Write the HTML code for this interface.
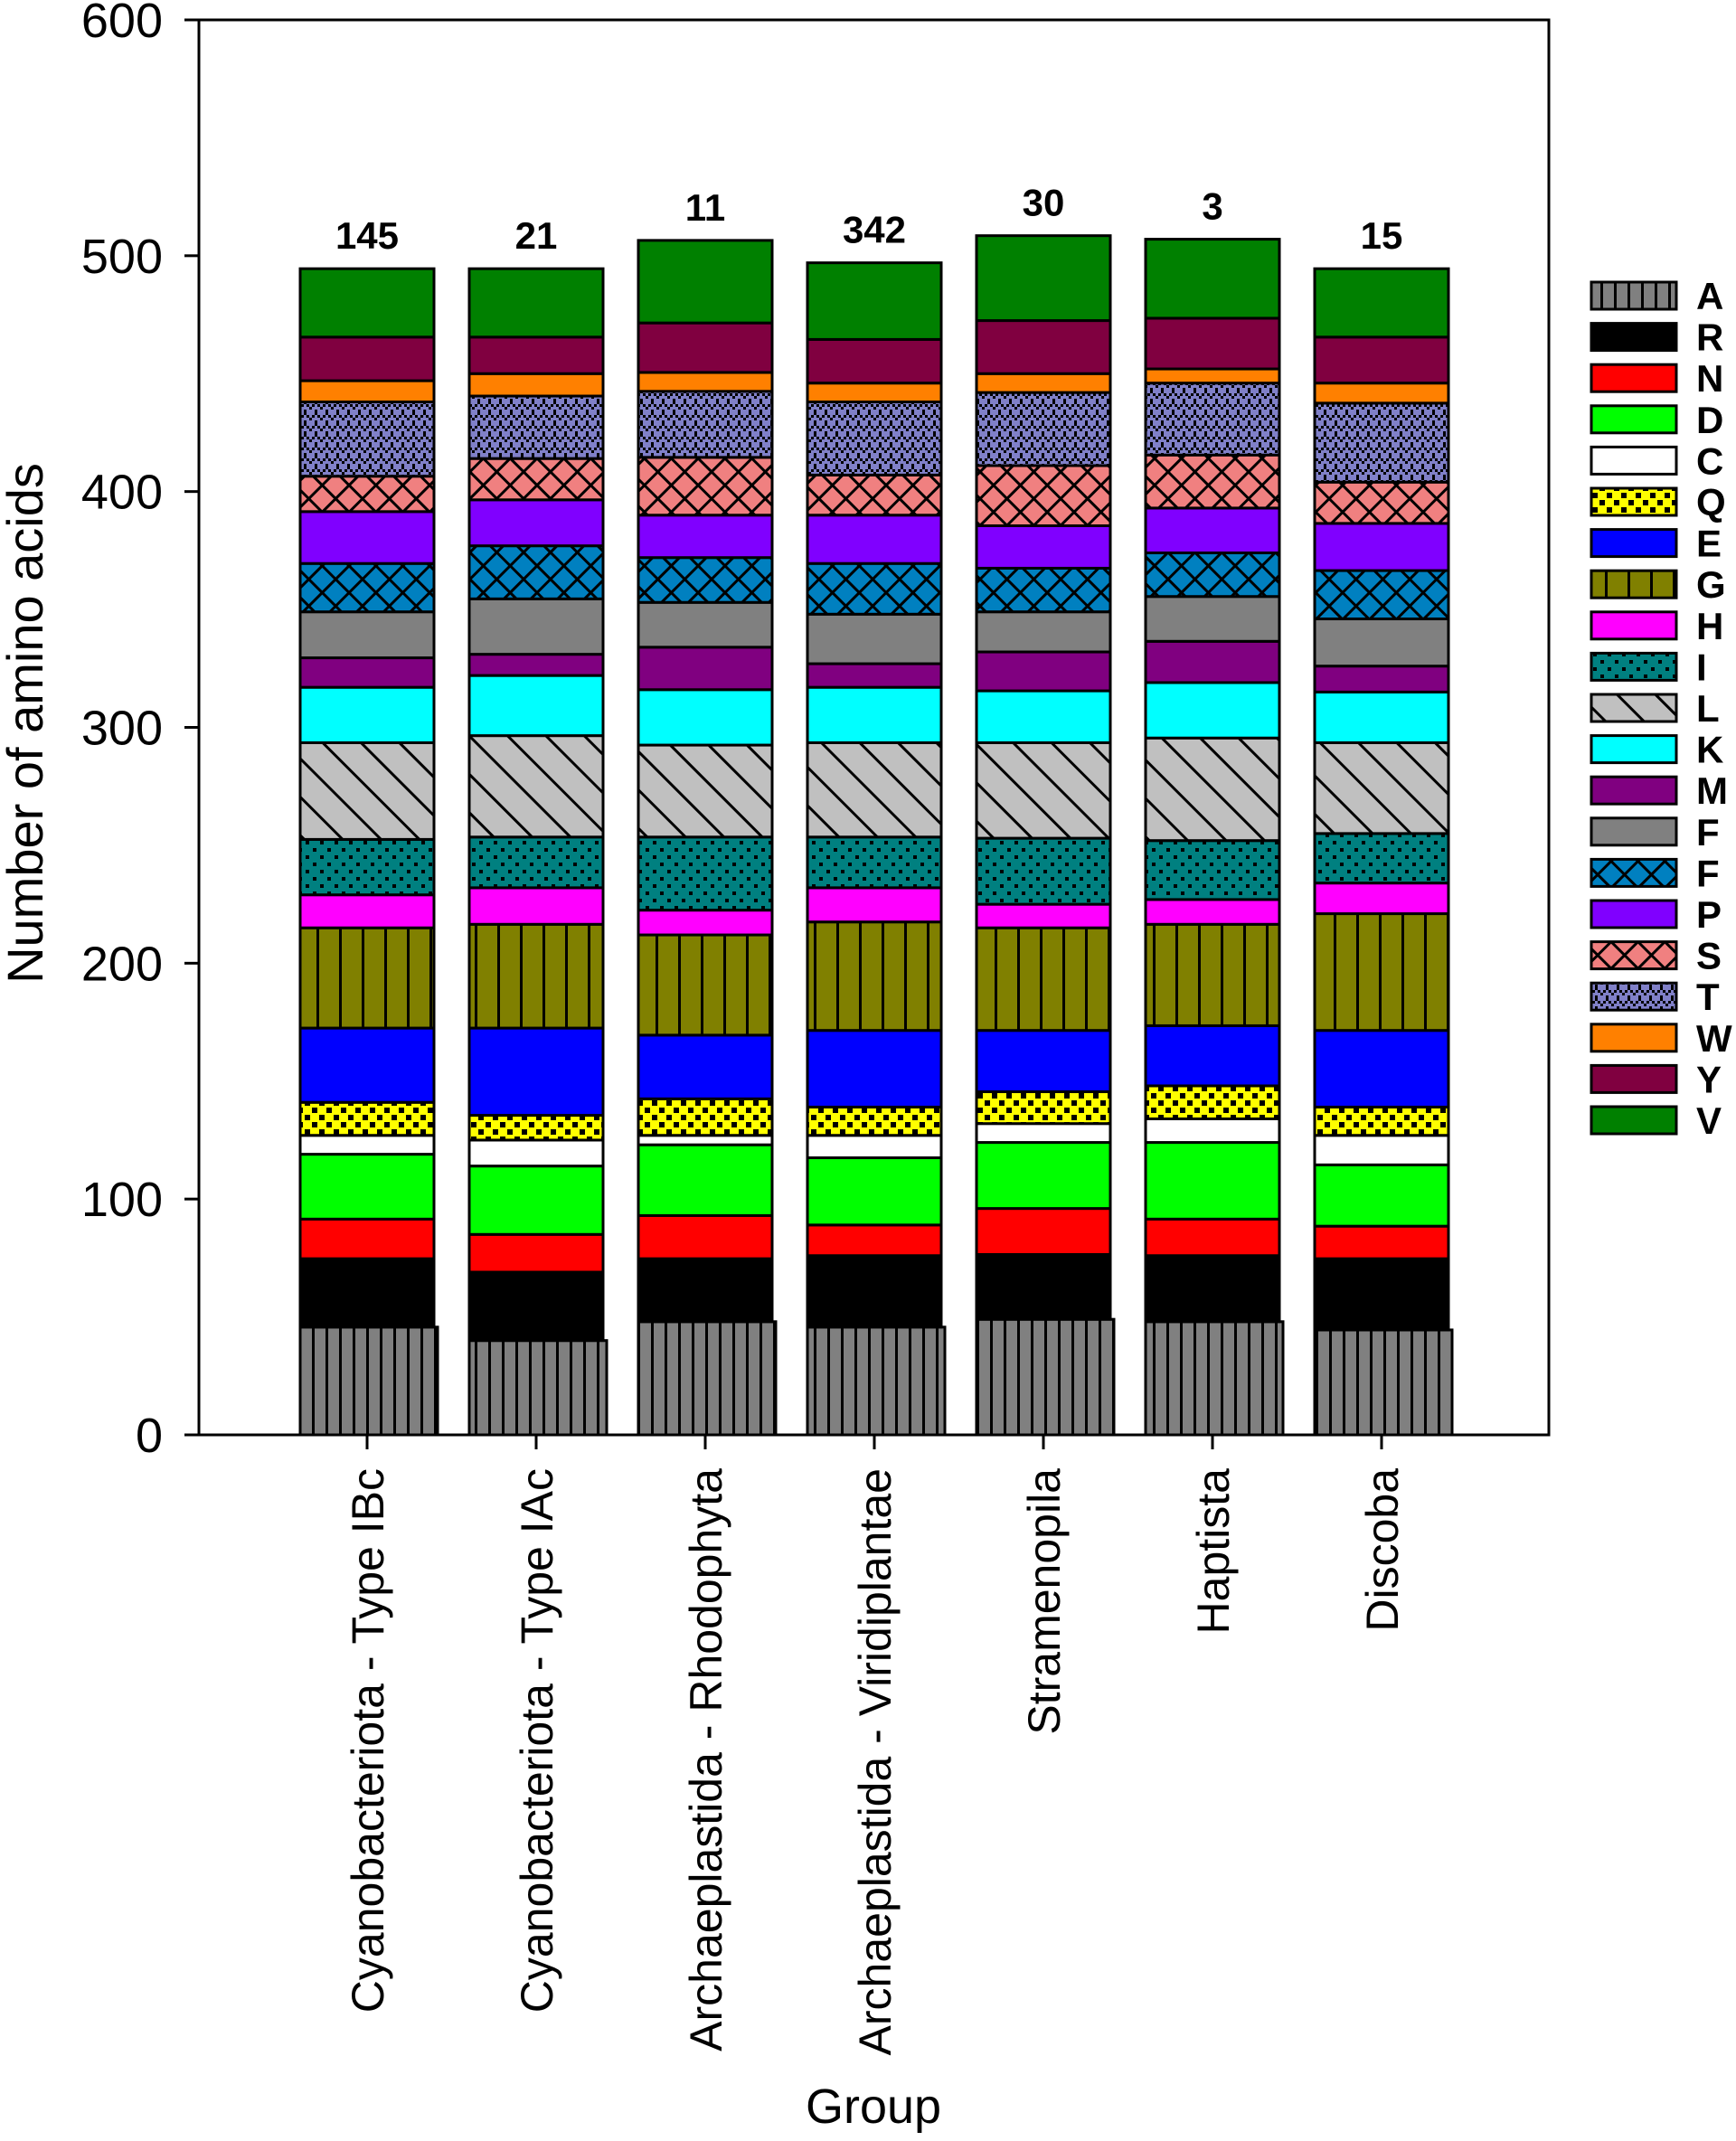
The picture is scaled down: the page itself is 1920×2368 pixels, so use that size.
<!DOCTYPE html>
<html><head><meta charset="utf-8"><style>
html,body{margin:0;padding:0;background:#fff;}
svg{display:block;font-family:"Liberation Sans",Arial,sans-serif;}
</style></head><body>
<svg id="chart" width="1920" height="2368" viewBox="0 0 1920 2368">
<defs>
<pattern id="pA" width="15" height="20" patternUnits="userSpaceOnUse"><rect width="15" height="20" fill="#808080"/><rect x="0" width="3" height="20" fill="#000"/></pattern>
<pattern id="pG" width="25" height="20" patternUnits="userSpaceOnUse"><rect width="25" height="20" fill="#808000"/><rect x="0" width="3" height="20" fill="#000"/></pattern>
<pattern id="pI" width="16" height="16" patternUnits="userSpaceOnUse"><rect width="16" height="16" fill="#008080"/><rect x="2" y="2" width="4" height="4" fill="#000"/><rect x="10" y="10" width="4" height="4" fill="#000"/></pattern>
<pattern id="pL" width="30" height="30" patternUnits="userSpaceOnUse" patternTransform="rotate(-45)"><rect width="30" height="30" fill="#c0c0c0"/><rect x="0" width="3" height="30" fill="#000"/></pattern>
<pattern id="pX" width="21" height="21" patternUnits="userSpaceOnUse" patternTransform="rotate(45)"><rect width="21" height="21" fill="#0080c0"/><rect width="3" height="21" fill="#000"/><rect width="21" height="3" fill="#000"/></pattern>
<pattern id="pS" width="21" height="21" patternUnits="userSpaceOnUse" patternTransform="rotate(45)"><rect width="21" height="21" fill="#f08080"/><rect width="3" height="21" fill="#000"/><rect width="21" height="3" fill="#000"/></pattern>
<pattern id="pT" width="12" height="12" patternUnits="userSpaceOnUse"><rect width="12" height="12" fill="#8080c8"/><rect x="0" y="0" width="3" height="3" fill="#000"/><rect x="3" y="3" width="3" height="3" fill="#000"/><rect x="9" y="3" width="3" height="3" fill="#000"/><rect x="6" y="6" width="3" height="3" fill="#000"/><rect x="0" y="9" width="3" height="3" fill="#000"/></pattern>
<pattern id="pQ" width="16" height="16" patternUnits="userSpaceOnUse"><rect width="16" height="16" fill="#ffff00"/><rect x="1" y="1" width="6" height="6" fill="#000"/><rect x="9" y="9" width="6" height="6" fill="#000"/></pattern>
</defs>
<g id="plot"></g>
</svg>
<script>
const groups = ["Cyanobacteriota - Type IBc","Cyanobacteriota - Type IAc","Archaeplastida - Rhodophyta","Archaeplastida - Viridiplantae","Stramenopila","Haptista","Discoba"];
const counts = ["145","21","11","342","30","3","15"];
const acids = ["A","R","N","D","C","Q","E","G","H","I","L","K","M","F","F","P","S","T","W","Y","V"];
const fills = ["url(#pA)","#000000","#ff0000","#00ff00","#ffffff","url(#pQ)","#0000ff","url(#pG)","#ff00ff","url(#pI)","url(#pL)","#00ffff","#800080","#808080","url(#pX)","#8000ff","url(#pS)","url(#pT)","#ff8000","#800040","#008000"];
const s1 = [45.7,29,16.8,27.5,8,14,31.5,42.5,14,23.5,41,23.5,12.5,19.5,20.5,22,15,31.5,9,18.5,29];
const s2 = [40,29,16,29,11,10.5,37,44,15.5,21.5,43,25.5,9,23.5,22.5,19.5,17.5,26.5,9.5,15.5,29];
const s3 = [48,26.7,18.3,30,4,15.5,27,42.5,10.5,31,39,23.5,18,19,19,18,24.5,28,8,21,35];
const s4 = [45.7,30.3,13,28.5,9.5,12,32.5,46,14.5,21.5,40,23.5,10,21,21.5,20.5,17,31,8,18.5,32.5];
const s5 = [49,27.5,19.5,28,8,13.5,26,43.5,10,28,40.5,22,16.5,17,18.5,18,25.5,31,8,22.5,36];
const s6 = [48,28,15.5,32.5,10,14,25.5,43,10.5,25,43.5,23.5,17.5,19,18.5,19,22.5,30.5,6,21.5,33.5];
const s7 = [44.5,30.2,13.8,26,12.5,12,32.5,49.5,13,21,38.5,21.5,11,20,20.5,20,17.5,33.5,8.5,19.5,29];
const series = [s1,s2,s3,s4,s5,s6,s7];
const yTicks = [0,100,200,300,400,500,600];

const NS="http://www.w3.org/2000/svg";
const g=document.getElementById('plot');
const L=220,R=1713,T=22,B=1587;
const y=v=>B-(v/600)*(B-T);
const x0=406, step=187, bw=148;
const xc=i=>x0+i*step;
function mk(tag,attrs,parent){const e=document.createElementNS(NS,tag);for(const k in attrs)e.setAttribute(k,attrs[k]);(parent||g).appendChild(e);return e;}

series.forEach((vals,i)=>{
  let cum=0;
  vals.forEach((v,j)=>{
    const top=cum+v;
    const w = j===0? bw+4 : bw;
    const r=mk('rect',{x:xc(i)-bw/2,y:y(top),width:w,height:y(cum)-y(top),fill:fills[j],stroke:'#000','stroke-width':3});
    
    
    cum=top;
  });
  const t=mk('text',{x:xc(i),y:y(cum)-22,'text-anchor':'middle','font-size':42,'font-weight':'bold'});
  t.textContent=counts[i];
  
  
  const tk=mk('line',{x1:xc(i),x2:xc(i),y1:B,y2:B+16,stroke:'#000','stroke-width':3});
  
  
  const xl=mk('text',{transform:`translate(${xc(i)+18},1624) rotate(-90)`,'text-anchor':'end','font-size':50});
  xl.textContent=groups[i];
  
  
});

const fr=mk('rect',{x:L,y:T,width:R-L,height:B-T,fill:'none',stroke:'#000','stroke-width':3});



yTicks.forEach(v=>{
  const l=mk('line',{x1:L-16,x2:L,y1:y(v),y2:y(v),stroke:'#000','stroke-width':3});
  
  
  const t=mk('text',{x:180,y:y(v)+19,'text-anchor':'end','font-size':54});
  t.textContent=v;
  
  
});

const yt=mk('text',{transform:'translate(47,800) rotate(-90)','text-anchor':'middle','font-size':56});
yt.textContent='Number of amino acids';


const xt=mk('text',{x:966,y:2348,'text-anchor':'middle','font-size':54});
xt.textContent='Group';



acids.forEach((a,j)=>{
  const cy=327+j*45.6;
  const r=mk('rect',{x:1760,y:cy-15,width:94,height:30,fill:fills[j],stroke:'#000','stroke-width':3});
  
  
  const t=mk('text',{x:1876,y:cy+15,'font-size':42,'font-weight':'bold'});
  t.textContent=a;
  
  
});
</script>
</body></html>
